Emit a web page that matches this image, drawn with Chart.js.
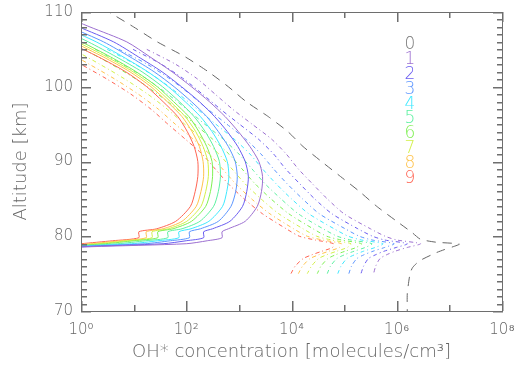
<!DOCTYPE html>
<html>
<head>
<meta charset="utf-8">
<script src="https://cdn.jsdelivr.net/npm/chart.js@4.4.1/dist/chart.umd.min.js"></script>
<style>
  body { margin: 0; background: #fff; }
  #wrap { width: 515px; height: 365px; }
</style>
</head>
<body>
<div id="wrap"><canvas id="ohChart" width="515" height="365"></canvas></div>
<script>
// Altitude grids (km)
const solidAlt = [109.5, 108, 106, 104, 102, 100, 98, 96, 94, 92, 90, 88, 86, 84, 82, 81, 80.6, 79.8, 79.4, 79.0, 78.6, 78.2];
const dashAlt = [105, 103, 101, 99, 97, 95, 93, 91, 89, 87, 85, 83, 81, 80, 79.5, 79.0, 78.5, 78.0, 77.5, 77.0, 76.0, 75.0];
const refAlt = [110.5, 110, 108, 106, 104, 102, 100, 98, 96, 94, 92, 90, 88, 86, 84, 82, 80.5, 79.6, 79.2, 78.95, 78.2, 77.8, 76.7, 75.8, 74.9, 72.3, 70, 69.5];

// log10 of OH* concentration, solid profiles v = 1..9
const solidLog1 = [-0.35, 0.17, 0.87, 1.31, 1.73, 2.10, 2.44, 2.74, 2.99, 3.21, 3.38, 3.45, 3.43, 3.35, 3.12, 2.80, 2.68, 2.68, 2.40, 2.00, 0.20, -1.00];
const solidLog2 = [-0.54, -0.04, 0.62, 1.09, 1.54, 1.91, 2.25, 2.54, 2.78, 2.98, 3.12, 3.18, 3.15, 3.07, 2.83, 2.50, 2.33, 2.33, 2.00, 1.56, 0.02, -1.04];
const solidLog3 = [-0.68, -0.21, 0.43, 0.93, 1.39, 1.77, 2.10, 2.39, 2.61, 2.80, 2.93, 2.97, 2.94, 2.85, 2.61, 2.27, 2.06, 2.06, 1.70, 1.22, -0.11, -1.08];
const solidLog4 = [-0.79, -0.33, 0.29, 0.80, 1.27, 1.66, 1.98, 2.27, 2.49, 2.66, 2.78, 2.81, 2.77, 2.69, 2.43, 2.09, 1.86, 1.86, 1.46, 0.96, -0.22, -1.10];
const solidLog5 = [-0.90, -0.46, 0.14, 0.67, 1.16, 1.55, 1.87, 2.15, 2.36, 2.52, 2.63, 2.65, 2.61, 2.52, 2.26, 1.92, 1.65, 1.65, 1.23, 0.70, -0.32, -1.13];
const solidLog6 = [-1.00, -0.58, 0.01, 0.56, 1.05, 1.45, 1.76, 2.05, 2.24, 2.39, 2.49, 2.50, 2.46, 2.37, 2.10, 1.75, 1.46, 1.46, 1.01, 0.46, -0.42, -1.15];
const solidLog7 = [-1.06, -0.64, -0.07, 0.49, 0.99, 1.39, 1.70, 1.98, 2.18, 2.32, 2.41, 2.42, 2.37, 2.28, 2.01, 1.66, 1.35, 1.35, 0.89, 0.32, -0.47, -1.17];
const solidLog8 = [-1.12, -0.71, -0.15, 0.42, 0.93, 1.33, 1.64, 1.92, 2.11, 2.25, 2.32, 2.33, 2.28, 2.19, 1.92, 1.56, 1.24, 1.24, 0.76, 0.18, -0.53, -1.18];
const solidLog9 = [-1.20, -0.80, -0.25, 0.33, 0.85, 1.25, 1.56, 1.84, 2.02, 2.15, 2.22, 2.22, 2.17, 2.08, 1.80, 1.44, 1.10, 1.10, 0.60, 0.00, -0.60, -1.20];

// log10 of OH* concentration, dash-dot profiles v = 1..9
const dashLog1 = [1.25, 1.80, 2.22, 2.55, 2.88, 3.25, 3.62, 3.90, 4.13, 4.40, 4.68, 5.00, 5.50, 5.78, 6.00, 6.45, 6.20, 5.97, 5.80, 5.68, 5.60, 5.56];
const dashLog2 = [0.99, 1.53, 1.96, 2.31, 2.65, 3.01, 3.37, 3.66, 3.89, 4.16, 4.44, 4.77, 5.26, 5.54, 5.77, 6.20, 5.99, 5.76, 5.59, 5.46, 5.37, 5.32];
const dashLog3 = [0.72, 1.26, 1.70, 2.07, 2.41, 2.77, 3.13, 3.42, 3.66, 3.92, 4.21, 4.53, 5.02, 5.29, 5.53, 5.95, 5.77, 5.55, 5.37, 5.24, 5.14, 5.09];
const dashLog4 = [0.50, 1.03, 1.48, 1.86, 2.21, 2.56, 2.91, 3.21, 3.45, 3.71, 4.00, 4.33, 4.81, 5.08, 5.33, 5.74, 5.59, 5.37, 5.19, 5.05, 4.94, 4.88];
const dashLog5 = [0.27, 0.79, 1.26, 1.65, 2.01, 2.35, 2.70, 3.00, 3.25, 3.50, 3.80, 4.13, 4.60, 4.87, 5.13, 5.53, 5.40, 5.19, 5.00, 4.86, 4.74, 4.68];
const dashLog6 = [0.06, 0.58, 1.05, 1.46, 1.83, 2.16, 2.50, 2.81, 3.06, 3.31, 3.61, 3.95, 4.41, 4.67, 4.95, 5.33, 5.23, 5.02, 4.83, 4.69, 4.56, 4.49];
const dashLog7 = [-0.15, 0.36, 0.84, 1.27, 1.64, 1.97, 2.31, 2.62, 2.87, 3.12, 3.42, 3.76, 4.22, 4.48, 4.76, 5.13, 5.06, 4.86, 4.66, 4.51, 4.38, 4.30];
const dashLog8 = [-0.34, 0.16, 0.65, 1.09, 1.47, 1.79, 2.13, 2.44, 2.69, 2.94, 3.24, 3.59, 4.04, 4.30, 4.59, 4.95, 4.91, 4.71, 4.51, 4.35, 4.21, 4.13];
const dashLog9 = [-0.50, 0.00, 0.50, 0.95, 1.33, 1.65, 1.98, 2.30, 2.55, 2.80, 3.10, 3.45, 3.90, 4.15, 4.45, 4.80, 4.78, 4.58, 4.38, 4.22, 4.07, 3.99];

// v = 0 profile (long dashes)
const refLog = [0.42, 0.53, 1.00, 1.45, 1.98, 2.42, 2.80, 3.14, 3.56, 3.93, 4.22, 4.57, 4.93, 5.29, 5.62, 6.00, 6.29, 6.45, 6.75, 7.19, 6.90, 6.75, 6.43, 6.30, 6.25, 6.20, 6.20, 6.20];

const levelLabels = ['0', '1', '2', '3', '4', '5', '6', '7', '8', '9'];
const xTickExp = [0, 2, 4, 6, 8];
const yTicks = [70, 80, 90, 100, 110];

const levelColors = ['#7a7a7a', '#9c6fd0', '#6a5cf0', '#5b95ff', '#3ee8ff', '#5cf0a0', '#7ef052', '#d2f048', '#ffc24a', '#ff6452'];
const solidLogs = [solidLog1, solidLog2, solidLog3, solidLog4, solidLog5, solidLog6, solidLog7, solidLog8, solidLog9];
const dashLogs = [dashLog1, dashLog2, dashLog3, dashLog4, dashLog5, dashLog6, dashLog7, dashLog8, dashLog9];
const supDigits = ['\u2070', '\u00B9', '\u00B2', '\u00B3', '\u2074', '\u2075', '\u2076', '\u2077', '\u2078'];

const fontFamily = "'DejaVu Sans', sans-serif";
const textColor = '#666666';
const axisColor = '#6e6e6e';

function profile(alts, logs) {
    return alts.map((a, i) => ({ x: Math.pow(10, logs[i]), y: a }));
}

const datasets = [];
datasets.push({
    label: '0',
    data: profile(refAlt, refLog),
    borderColor: '#666666',
    borderDash: [9, 7],
    borderWidth: 1,
    pointRadius: 0,
    showLine: true,
    tension: 0.2
});
solidLogs.forEach((logs, i) => {
    datasets.push({
        label: levelLabels[i + 1],
        data: profile(solidAlt, logs),
        borderColor: levelColors[i + 1],
        borderWidth: 1,
        pointRadius: 0,
        showLine: true,
        tension: 0.25
    });
});
dashLogs.forEach((logs, i) => {
    datasets.push({
        label: levelLabels[i + 1] + ' dash',
        data: profile(dashAlt, logs),
        borderColor: levelColors[i + 1],
        borderDash: [4, 3, 1, 3],
        borderWidth: 1,
        pointRadius: 0,
        showLine: true,
        tension: 0.25
    });
});

// Box, inward ticks and the number legend
const framePlugin = {
    id: 'frame',
    afterDraw(chart) {
        const ctx = chart.ctx;
        const a = chart.chartArea;
        const xs = chart.scales.x;
        const ys = chart.scales.y;
        const left = Math.round(a.left);
        const right = Math.round(a.right);
        const top = Math.round(a.top);
        const bottom = Math.round(a.bottom);
        ctx.save();
        ctx.fillStyle = axisColor;
        // frame
        ctx.fillRect(left, top, right - left + 1, 1);
        ctx.fillRect(left, bottom, right - left + 1, 1);
        ctx.fillRect(left, top, 1, bottom - top + 1);
        ctx.fillRect(right, top, 1, bottom - top + 1);
        // x ticks, top and bottom
        for (let e = 0; e <= 8; e++) {
            const px = Math.round(xs.getPixelForValue(Math.pow(10, e)));
            const len = e % 2 === 0 ? 10 : 6;
            ctx.fillRect(px, bottom - len, 1.5, len);
            ctx.fillRect(px, top, 1.5, len);
        }
        // y ticks, left and right
        for (let v = 70; v <= 110; v++) {
            const py = Math.round(ys.getPixelForValue(v));
            const len = v % 10 === 0 ? 10 : 6;
            ctx.fillRect(left, py, len, 1.5);
            ctx.fillRect(right - len + 1, py, len, 1.5);
        }

        ctx.font = '200 17px ' + fontFamily;
        ctx.textAlign = 'center';
        ctx.textBaseline = 'middle';
        levelLabels.forEach((lab, i) => {
            ctx.fillStyle = levelColors[i];
            ctx.fillText(lab, 410, 45 + i * 14.8);
        });
        ctx.restore();
    }
};

new Chart(document.getElementById('ohChart').getContext('2d'), {
    type: 'scatter',
    data: { datasets: datasets },
    options: {
        responsive: false,
        animation: false,
        layout: { padding: { left: 0, right: 13, top: 12, bottom: 0 } },
        plugins: {
            legend: { display: false },
            tooltip: { enabled: false }
        },
        scales: {
            x: {
                type: 'logarithmic',
                min: 1,
                max: 1e8,
                afterBuildTicks: scale => { scale.ticks = xTickExp.map(e => ({ value: Math.pow(10, e) })); },
                afterFit: scale => {
                    scale.height = 54;
                    scale.paddingLeft = 0;
                    scale.paddingRight = 0;
                },
                grid: { display: false, drawTicks: false },
                border: { display: false },
                ticks: {
                    color: textColor,
                    padding: 10,
                    maxRotation: 0,
                    autoSkip: false,
                    font: { family: fontFamily, size: 15, weight: '200' },
                    callback: value => '10' + supDigits[Math.round(Math.log10(value))]
                },
                title: {
                    display: true,
                    text: 'OH* concentration [molecules/cm\u00B3]',
                    color: textColor,
                    padding: { top: 0, bottom: 2 },
                    font: { family: fontFamily, size: 18, weight: '200' }
                }
            },
            y: {
                min: 70,
                max: 110,
                afterBuildTicks: scale => { scale.ticks = yTicks.map(v => ({ value: v })); },
                afterFit: scale => {
                    scale.width = 81;
                    scale.paddingTop = 0;
                    scale.paddingBottom = 0;
                },
                grid: { display: false, drawTicks: false },
                border: { display: false },
                ticks: {
                    color: textColor,
                    padding: 8,
                    font: { family: fontFamily, size: 15, weight: '200' }
                },
                title: {
                    display: true,
                    text: 'Altitude [km]',
                    color: textColor,
                    padding: { top: 11, bottom: 0 },
                    font: { family: fontFamily, size: 18, weight: '200' }
                }
            }
        }
    },
    plugins: [framePlugin]
});
</script>
</body>
</html>
